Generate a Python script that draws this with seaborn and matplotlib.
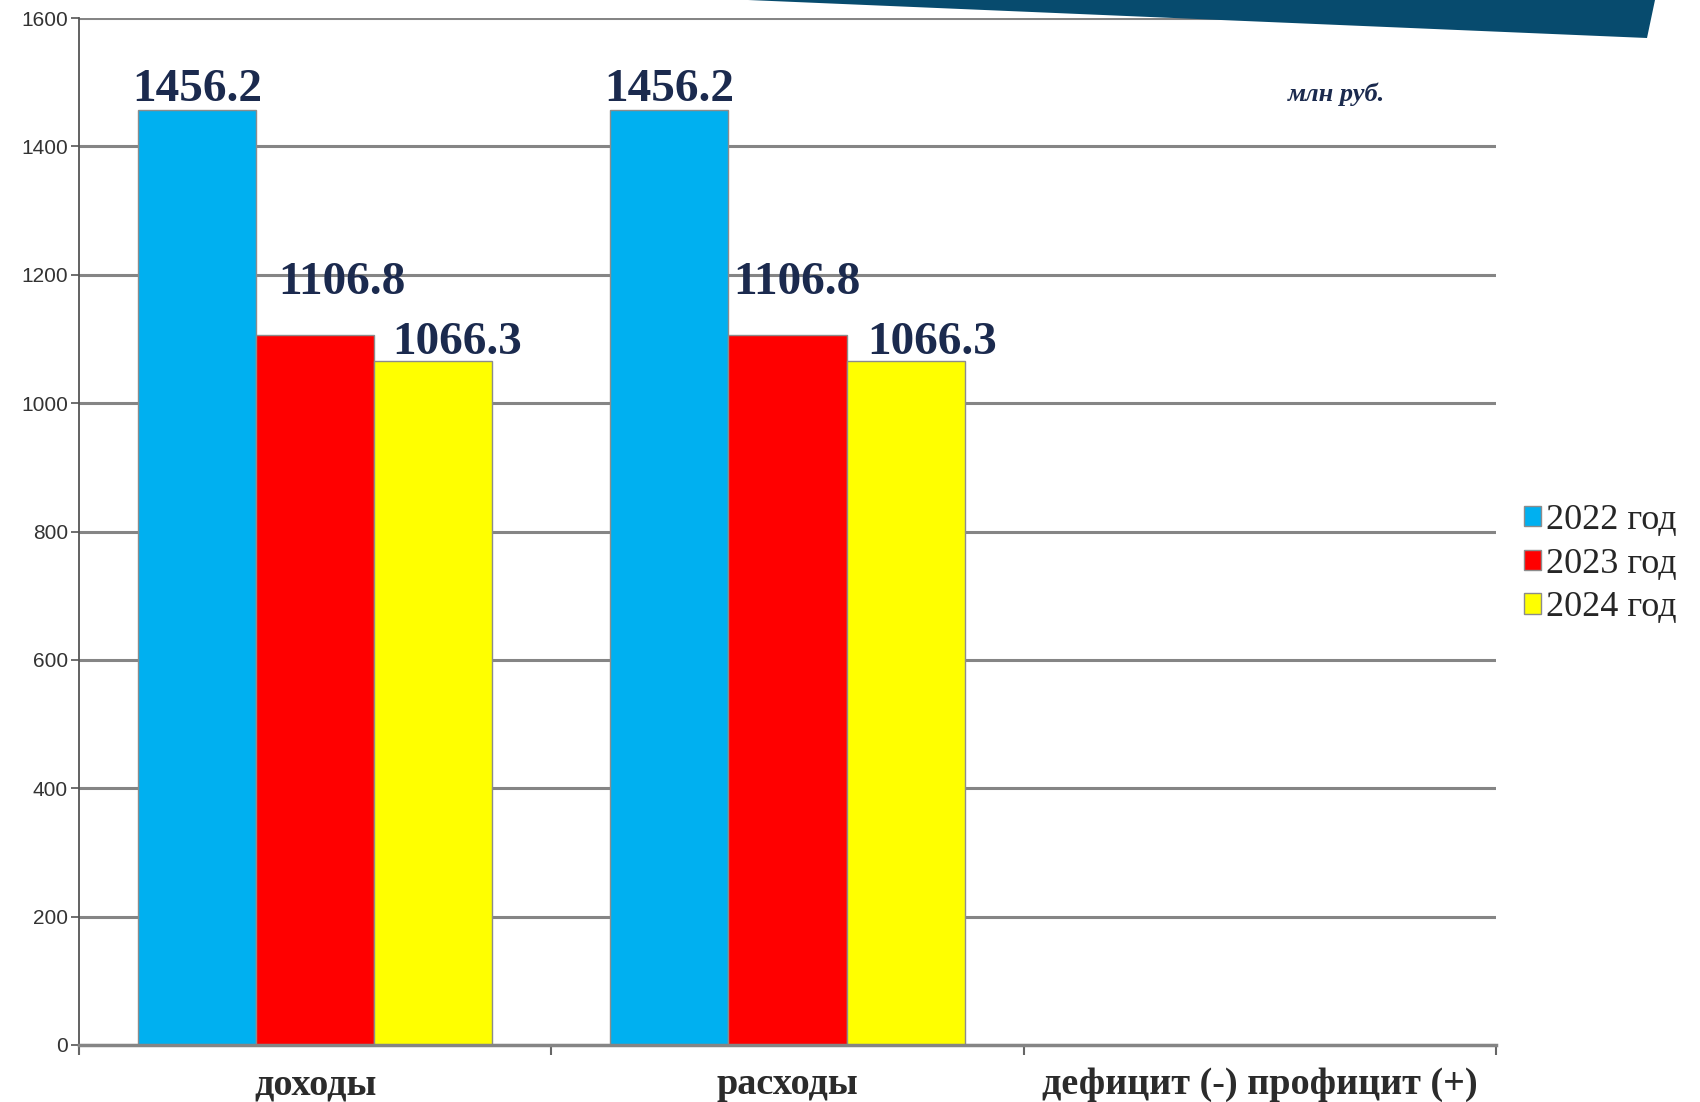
import matplotlib
matplotlib.use("Agg")
import matplotlib.pyplot as plt
from matplotlib.patches import Polygon
from matplotlib.ticker import FixedLocator
import pandas as pd
import seaborn as sns

# Budget figures, million rubles
categories = ["доходы", "расходы", "дефицит (-) профицит (+)"]
years = ["2022 год", "2023 год", "2024 год"]
values_2022 = [1456.2, 1456.2, 0.0]
values_2023 = [1106.8, 1106.8, 0.0]
values_2024 = [1066.3, 1066.3, 0.0]
y_ticks = [0, 200, 400, 600, 800, 1000, 1200, 1400, 1600]

colors = ["#00b0f0", "#ff0000", "#ffff00"]
# value label offsets (points) per year series, per category
label_offsets = [
    [(0, 7), (0, 7), (0, 7)],
    [(19, 29), (7, 29), (0, 0)],
    [(17, 5), (19, 5), (0, 0)],
]
label_color = "#1b2a4e"

rows = []
for year, vals in zip(years, [values_2022, values_2023, values_2024]):
    for cat, v in zip(categories, vals):
        rows.append({"category": cat, "year": year, "value": v})
df = pd.DataFrame(rows)

sns.set_theme(style="white")
plt.rcParams["font.family"] = ["Liberation Serif", "DejaVu Serif"]

fig = plt.figure(figsize=(17, 11.02), dpi=100)
ax = fig.add_axes([79 / 1700, 57 / 1102, (1496 - 79) / 1700, (1045 - 18) / 1102])

sns.barplot(data=df, x="category", y="value", hue="year", order=categories,
            hue_order=years, palette=colors, saturation=1, width=0.75,
            edgecolor="#8c8c8c", linewidth=1, ax=ax, legend=True)

ax.set_xlim(-0.5, 2.5)
ax.set_ylim(0, 1600)
ax.yaxis.set_major_locator(FixedLocator(y_ticks))
ax.set_xlabel("")
ax.set_ylabel("")

# horizontal gridlines behind the bars
ax.set_axisbelow(True)
ax.yaxis.grid(True, color="#858585", linewidth=2.2)
ax.xaxis.grid(False)

for side in ["top", "right"]:
    ax.spines[side].set_visible(False)
ax.spines["left"].set_color("#555555")
ax.spines["left"].set_linewidth(1.3)
ax.spines["bottom"].set_color("#858585")
ax.spines["bottom"].set_linewidth(2.5)

# y tick labels
ax.tick_params(axis="y", which="major", length=6, width=1.2, color="#555555",
               pad=2, labelsize=15, labelcolor="#333333", left=True)
for lbl in ax.get_yticklabels():
    lbl.set_family("Liberation Sans")

# category labels centred, tick marks at category boundaries
ax.set_xticks(range(len(categories)))
ax.set_xticklabels(categories)
ax.xaxis.set_minor_locator(FixedLocator([-0.5, 0.5, 1.5, 2.5]))
ax.tick_params(axis="x", which="major", length=0, pad=16, labelsize=27.5,
               labelcolor="#2b2b2b")
ax.tick_params(axis="x", which="minor", length=7, width=1.5, color="#666666",
               bottom=True, direction="out")
for lbl in ax.get_xticklabels():
    lbl.set_fontweight("bold")

# value labels above bars
for container, offsets in zip(ax.containers, label_offsets):
    for bar, (dx, dy) in zip(container, offsets):
        h = bar.get_height()
        if h > 0:
            ax.annotate(f"{h:.1f}", xy=(bar.get_x() + bar.get_width() / 2, h),
                        xytext=(dx, dy), textcoords="offset points",
                        ha="center", va="baseline", fontsize=34,
                        fontweight="bold", color=label_color, zorder=6)

# legend on the right
handles, labels = ax.get_legend_handles_labels()
ax.legend(handles, labels, loc="center left",
          bbox_to_anchor=(1524 / 1700, 1 - 564 / 1102),
          bbox_transform=fig.transFigure, frameon=False, fontsize=26,
          handlelength=0.48, handleheight=0.48, handletextpad=0.12,
          labelspacing=0.3, borderpad=0, borderaxespad=0)

fig.text(1337 / 1700, 1 - 94 / 1102, "млн руб.", ha="center", va="center",
         fontsize=19, fontstyle="italic", fontweight="bold", color=label_color)

# decorative banner in the top right corner
banner = Polygon([(748 / 1700, 1.0), (1655 / 1700, 1.0), (1647 / 1700, 1 - 38 / 1102)],
                 closed=True, transform=fig.transFigure, facecolor="#074b6e",
                 edgecolor="none", zorder=10)
fig.add_artist(banner)

fig.savefig("out.png", dpi=100, facecolor="white")
